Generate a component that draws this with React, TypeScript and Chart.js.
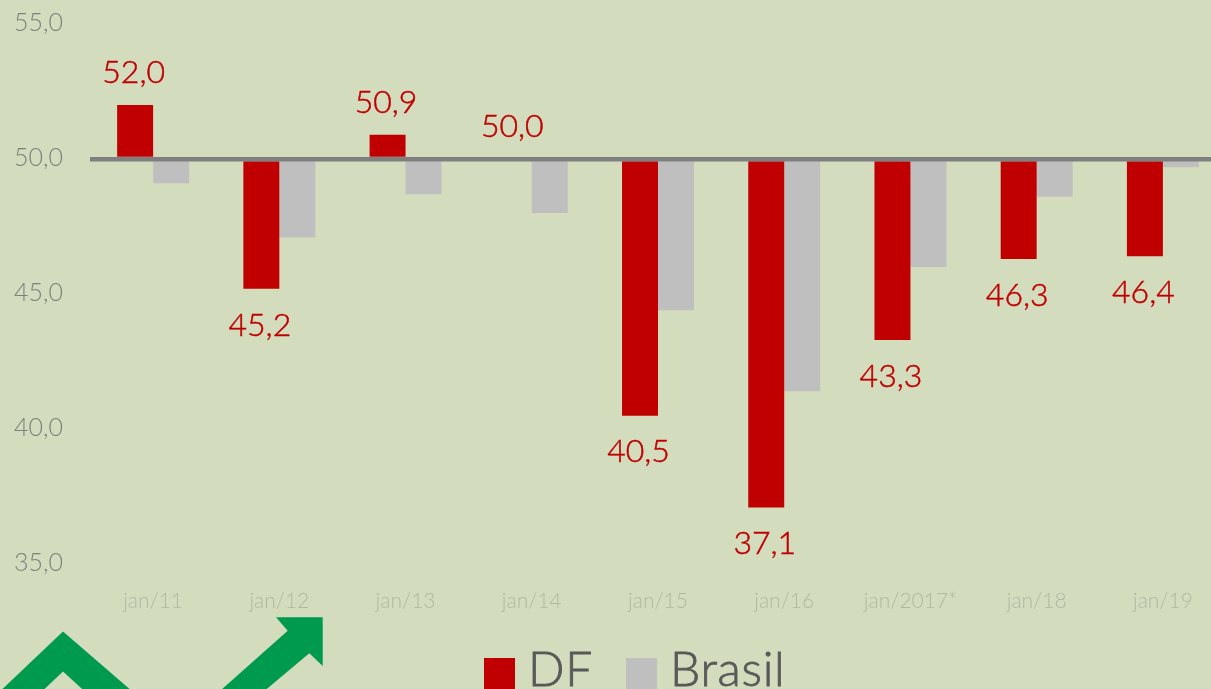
import React, { useEffect, useRef } from "react";
import { Chart, registerables } from "chart.js";

Chart.register(...registerables);

const categories = ["jan/11", "jan/12", "jan/13", "jan/14", "jan/15", "jan/16", "jan/2017*", "jan/18", "jan/19"];
const dfValues = [52.0, 45.2, 50.9, 50.0, 40.5, 37.1, 43.3, 46.3, 46.4];
const brasilValues = [49.1, 47.1, 48.7, 48.0, 44.4, 41.4, 46.0, 48.6, 49.7];

const BG = "#d3dcbd";
const RED = "#c00000";
const GREY = "#bfbfbf";
const FONT = "Lato, 'Open Sans', sans-serif";
const fmt = (v: number) => v.toFixed(1).replace(".", ",");

const chevron = [[63, 631.5], [140, 698], [92, 698], [63, 671.5], [35, 698], [-7, 698]];
const arrow = [[276, 617.3], [322.7, 617.3], [322.7, 666], [309.3, 653.3], [256, 698], [212, 698], [287.7, 630.7]];

const decorPlugin = {
  id: "decor",
  afterDraw(chart: any) {
    const { ctx } = chart;
    ctx.save();
    ctx.fillStyle = "#009a4e";
    for (const shape of [chevron, arrow]) {
      ctx.beginPath();
      shape.forEach(([x, y], i) => (i ? ctx.lineTo(x, y) : ctx.moveTo(x, y)));
      ctx.closePath();
      ctx.fill();
    }
    ctx.restore();
  },
};

const valueLabelPlugin = {
  id: "valueLabels",
  afterDatasetsDraw(chart: any) {
    const { ctx } = chart;
    const meta = chart.getDatasetMeta(0);
    ctx.save();
    ctx.font = `300 32px ${FONT}`;
    ctx.fillStyle = RED;
    ctx.strokeStyle = RED;
    ctx.lineWidth = 0.5;
    ctx.textAlign = "center";
    ctx.textBaseline = "middle";
    dfValues.forEach((v, i) => {
      const el = meta.data[i];
      const y = v >= 50 ? el.y - 32 : el.y + 36.5;
      ctx.fillText(fmt(v), el.x - 1.5, y);
      ctx.strokeText(fmt(v), el.x - 1.5, y);
    });
    ctx.restore();
  },
};

const legendPlugin = {
  id: "bottomLegend",
  afterDraw(chart: any) {
    const { ctx } = chart;
    const xs = [484, 626];
    ctx.save();
    ctx.font = `300 48px ${FONT}`;
    ctx.textBaseline = "alphabetic";
    ctx.lineWidth = 0.8;
    ctx.letterSpacing = "0.7px";
    chart.data.datasets.forEach((d: any, i: number) => {
      ctx.fillStyle = d.backgroundColor;
      ctx.fillRect(xs[i], 658, 31, 31);
      ctx.fillStyle = "#595959";
      ctx.strokeStyle = "#595959";
      ctx.fillText(d.label, xs[i] + 44, 686);
      ctx.strokeText(d.label, xs[i] + 44, 686);
    });
    ctx.restore();
  },
};

export default function App() {
  const ref = useRef<HTMLCanvasElement>(null);
  useEffect(() => {
    document.body.style.margin = "0";
    document.body.style.overflow = "hidden";
    const chart = new Chart(ref.current!, {
      type: "bar",
      data: {
        labels: categories,
        datasets: [
          { label: "DF", data: dfValues, backgroundColor: RED, base: 50, categoryPercentage: 0.57, barPercentage: 1 },
          { label: "Brasil", data: brasilValues, backgroundColor: GREY, base: 50, categoryPercentage: 0.57, barPercentage: 1 },
        ],
      },
      options: {
        animation: false,
        responsive: false,
        layout: { padding: { top: 24, left: 0, right: 0, bottom: 0 } },
        plugins: { legend: { display: false }, tooltip: { enabled: false } },
        scales: {
          x: {
            grid: { display: false },
            border: { display: false },
            ticks: { color: "#b0b8a2", font: { family: FONT, size: 21, weight: "300" }, maxRotation: 0, autoSkip: false, padding: 16 },
            afterFit(s: any) { s.height = 124.8; s.paddingLeft = 0; s.paddingRight = 0; },
          },
          y: {
            min: 35,
            max: 55,
            grid: {
              z: 1,
              drawTicks: false,
              color: "#7f7f7f",
              lineWidth: (c: any) => (c.tick && c.tick.value === 50 ? 4.5 : 0),
            },
            border: { display: false },
            ticks: {
              stepSize: 5,
              color: "#7f7f7f",
              font: { family: FONT, size: 25, weight: "300" },
              padding: 27,
              labelOffset: -1,
              callback: (v: any) => fmt(Number(v)),
            },
            afterFit(s: any) { s.width = 90; s.paddingTop = 0; s.paddingBottom = 0; },
          },
        },
      },
      plugins: [valueLabelPlugin, legendPlugin, decorPlugin],
    } as any);
    return () => chart.destroy();
  }, []);
  return (
    <div style={{ position: "fixed", left: 0, top: 0, width: 1211, height: 689, overflow: "hidden", background: BG }}>
      <canvas ref={ref} width={1226} height={689} style={{ display: "block", width: 1226, height: 689 }} />
    </div>
  );
}
